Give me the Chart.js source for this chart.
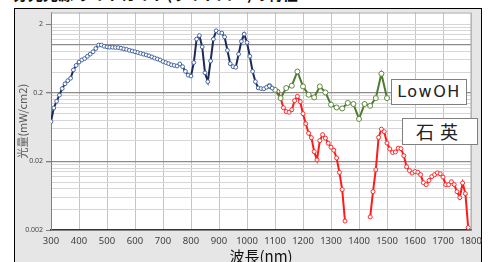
<!DOCTYPE html>
<html>
<head>
<meta charset="utf-8">
<script src="https://cdn.jsdelivr.net/npm/chart.js@4"></script>
<style>
  body { margin: 0; background: #fff; }
  #wrap { position: relative; width: 491px; height: 262px; overflow: hidden; font-family: "Noto Sans CJK JP", "Noto Sans", sans-serif; }
  #frame { position: absolute; left: 14px; top: 8px; width: 466px; height: 270px; border: 1.5px solid #000; background: #e6e6e6; }
  #title { position: absolute; left: 13px; top: -17px; font-size: 15px; font-weight: bold; color: #111; white-space: nowrap; }
  canvas { position: absolute; left: 0; top: 0; }
  .label { position: absolute; background: #fff; border: 1px solid #7f7f7f; color: #222; text-align: center; }
  #lowoh { left: 391px; top: 79px; width: 74px; height: 24px; line-height: 24px; font-size: 16px; letter-spacing: 1.5px; font-family: "DejaVu Sans", sans-serif; }
  #quartz { left: 402px; top: 118px; width: 74px; height: 25px; line-height: 25px; font-size: 18px; letter-spacing: 6px; }
</style>
</head>
<body>
<div id="wrap">
  <div id="title">分光光源 ライトガイド(ライトバー)の特性</div>
  <div id="frame"></div>
  <canvas id="chart" width="491" height="262"></canvas>
  <div class="label" id="lowoh">LowOH</div>
  <div class="label" id="quartz">石英</div>
</div>
<script>
// visible range (nm) and tick labels
const xTicks = [300, 400, 500, 600, 700, 800, 900, 1000, 1100, 1200, 1300, 1400, 1500, 1600, 1700, 1800];
const yLabels = [0.002, 0.02, 0.2, 2];

// light guide source (blue)
const blueNm = [300, 310, 320, 330, 340, 350, 360, 370, 380, 390,
  400, 410, 420, 430, 440, 450, 460, 470, 480, 490,
  500, 510, 520, 530, 540, 550, 560, 570, 580, 590,
  600, 610, 620, 630, 640, 650, 660, 670, 680, 690,
  700, 710, 720, 730, 740, 750, 760, 770, 780, 790,
  800, 810, 820, 830, 840, 850, 860, 870, 880, 890,
  900, 910, 920, 930, 940, 950, 960, 970, 980, 990,
  1000, 1010, 1020, 1030, 1040, 1050, 1060, 1070, 1080, 1090];
const blueVal = [0.076, 0.12, 0.15, 0.185, 0.23, 0.27, 0.30, 0.325, 0.43, 0.50,
  0.56, 0.60, 0.63, 0.68, 0.73, 0.79, 0.88, 0.99, 0.99, 0.95,
  0.93, 0.92, 0.92, 0.91, 0.91, 0.89, 0.87, 0.855, 0.83, 0.81,
  0.79, 0.77, 0.75, 0.73, 0.71, 0.69, 0.665, 0.64, 0.62, 0.60,
  0.57, 0.55, 0.53, 0.51, 0.50, 0.49, 0.525, 0.48, 0.41, 0.36,
  0.35, 0.55, 1.21, 1.36, 0.93, 0.39, 0.29, 0.58, 1.21, 1.60,
  1.51, 1.48, 1.30, 0.83, 0.53, 0.48, 0.47, 0.73, 1.12, 1.43,
  1.08, 0.68, 0.41, 0.29, 0.235, 0.23, 0.228, 0.24, 0.25, 0.234];

// LowOH fiber (green)
const greenNm = [1080, 1100, 1120, 1140, 1160, 1180, 1200, 1220, 1240, 1260, 1280,
  1300, 1320, 1340, 1360, 1380, 1400, 1420, 1440, 1460, 1480, 1500];
const greenVal = [0.25, 0.22, 0.167, 0.234, 0.253, 0.408, 0.247, 0.187, 0.171, 0.247, 0.202,
  0.134, 0.122, 0.118, 0.142, 0.137, 0.083, 0.137, 0.129, 0.167, 0.378, 0.167];

// quartz fiber (red), off-scale dip left as null
const redNm = [1110, 1120, 1130, 1140, 1150, 1160, 1170, 1180, 1190, 1200,
  1210, 1220, 1230, 1240, 1250, 1260, 1270, 1280, 1290, 1300,
  1310, 1320, 1330, 1340, 1350, 1360, 1370, 1380, 1390, 1400,
  1410, 1420, 1430, 1440, 1450, 1460, 1470, 1480, 1490, 1500,
  1510, 1520, 1530, 1540, 1550, 1560, 1570, 1580, 1590, 1600,
  1610, 1620, 1630, 1640, 1650, 1660, 1670, 1680, 1690, 1700,
  1710, 1720, 1730, 1740, 1750, 1760, 1770, 1780, 1790];
const redVal = [0.209, 0.169, 0.121, 0.106, 0.104, 0.113, 0.153, 0.177, 0.148, 0.099,
  0.0708, 0.0514, 0.0443, 0.0277, 0.021, 0.040, 0.049, 0.0436, 0.0368, 0.0322,
  0.0291, 0.0224, 0.0138, 0.00775, 0.0027, null, null, null, null, null,
  null, null, null, 0.0031, 0.00725, 0.0151, 0.0447, 0.0589, 0.0541, 0.037,
  0.0303, 0.027, 0.0274, 0.0311, 0.0306, 0.0242, 0.0167, 0.0147, 0.0135, 0.0142,
  0.0139, 0.0128, 0.0098, 0.00916, 0.0105, 0.012, 0.0128, 0.0136, 0.0132, 0.0118,
  0.00916, 0.00916, 0.0101, 0.0092, 0.00725, 0.00593, 0.0097, 0.00678, 0.00217];

function pairs(xs, ys) {
  return xs.map((x, i) => ({ x: x, y: ys[i] }));
}

function isLabel(v) {
  return yLabels.some(l => Math.abs(v - l) / l < 1e-6);
}

// gridlines k * 10^n like the spreadsheet's log axis
function yGridValues() {
  const vals = [];
  [0.002, 0.02, 0.2].forEach(d => {
    for (let k = 1; k <= 9; k++) vals.push(Math.round(d * k * 1e6) / 1e6);
  });
  vals.push(2);
  return vals;
}

function darkLine(v) {
  return [0.02, 0.2, 1].some(l => Math.abs(v - l) / l < 1e-6);
}

const plotBg = {
  id: 'plotBg',
  beforeDraw(chart) {
    const { ctx, chartArea: a } = chart;
    ctx.save();
    ctx.fillStyle = '#ffffff';
    ctx.fillRect(a.left, a.top, a.right - a.left, a.bottom - a.top);
    ctx.restore();
  },
  afterDraw(chart) {
    const { ctx, chartArea: a } = chart;
    ctx.save();
    ctx.strokeStyle = '#a6a6a6';
    ctx.lineWidth = 1;
    ctx.beginPath();
    ctx.moveTo(a.left, a.top + 0.5);
    ctx.lineTo(a.right, a.top + 0.5);
    ctx.lineTo(a.right, a.bottom);
    ctx.stroke();
    ctx.restore();
  }
};

const ctx = document.getElementById('chart').getContext('2d');
new Chart(ctx, {
  type: 'line',
  data: {
    datasets: [
      {
        data: pairs(blueNm, blueVal),
        borderColor: '#1c2a55',
        borderWidth: 2,
        pointBackgroundColor: '#ffffff',
        pointBorderColor: '#4466a3',
        pointBorderWidth: 1,
        pointRadius: 1.9
      },
      {
        data: pairs(greenNm, greenVal),
        borderColor: '#4f7b30',
        borderWidth: 2,
        pointBackgroundColor: '#ffffff',
        pointBorderColor: '#5e8a3c',
        pointBorderWidth: 1,
        pointRadius: 2.5
      },
      {
        data: pairs(redNm, redVal),
        borderColor: '#ff1a1a',
        borderWidth: 2,
        pointBackgroundColor: '#ffffff',
        pointBorderColor: '#ff2a2a',
        pointBorderWidth: 1,
        pointRadius: 2,
        spanGaps: false
      }
    ]
  },
  options: {
    responsive: false,
    animation: false,
    layout: { padding: { top: 12.5, right: 20, left: 0, bottom: 0 } },
    plugins: { legend: { display: false }, tooltip: { enabled: false } },
    elements: { line: { tension: 0 } },
    scales: {
      x: {
        type: 'linear',
        min: 300,
        max: 1800,
        afterBuildTicks: s => { s.ticks = xTicks.map(v => ({ value: v })); },
        afterFit: s => { s.height = 32; },
        ticks: {
          color: '#404040',
          font: { family: 'Noto Sans', size: 9.5 },
          padding: 6,
          autoSkip: false,
          maxRotation: 0,
          callback: v => String(v)
        },
        grid: { color: '#c4c4c4', drawTicks: false },
        border: { color: '#333333', width: 1.5 },
        title: { display: true, text: '波長(nm)', color: '#111', font: { family: 'Noto Sans CJK JP', size: 15 }, padding: { top: 0, bottom: -3.5 } }
      },
      y: {
        type: 'logarithmic',
        min: 0.002,
        max: 2.95,
        afterBuildTicks: s => { s.ticks = yGridValues().map(v => ({ value: v })); },
        afterFit: s => { s.width = 51; },
        ticks: {
          color: '#404040',
          font: { family: 'Open Sans', size: 7 },
          padding: 3,
          autoSkip: false,
          callback: v => isLabel(v) ? String(v) : ''
        },
        grid: {
          color: c => (c.tick && darkLine(c.tick.value)) ? '#8c8c8c' : '#d6d6d6',
          lineWidth: c => (c.tick && darkLine(c.tick.value)) ? 1.3 : 1,
          tickColor: c => (c.tick && isLabel(c.tick.value)) ? '#808080' : 'rgba(0,0,0,0)',
          tickLength: 5
        },
        border: { color: '#808080' },
        title: { display: true, text: '光量(mW/cm2)', color: '#595959', font: { family: 'Noto Sans CJK JP', size: 11 }, padding: { top: 16, bottom: 0 } }
      }
    }
  },
  plugins: [plotBg]
});
</script>
</body>
</html>
